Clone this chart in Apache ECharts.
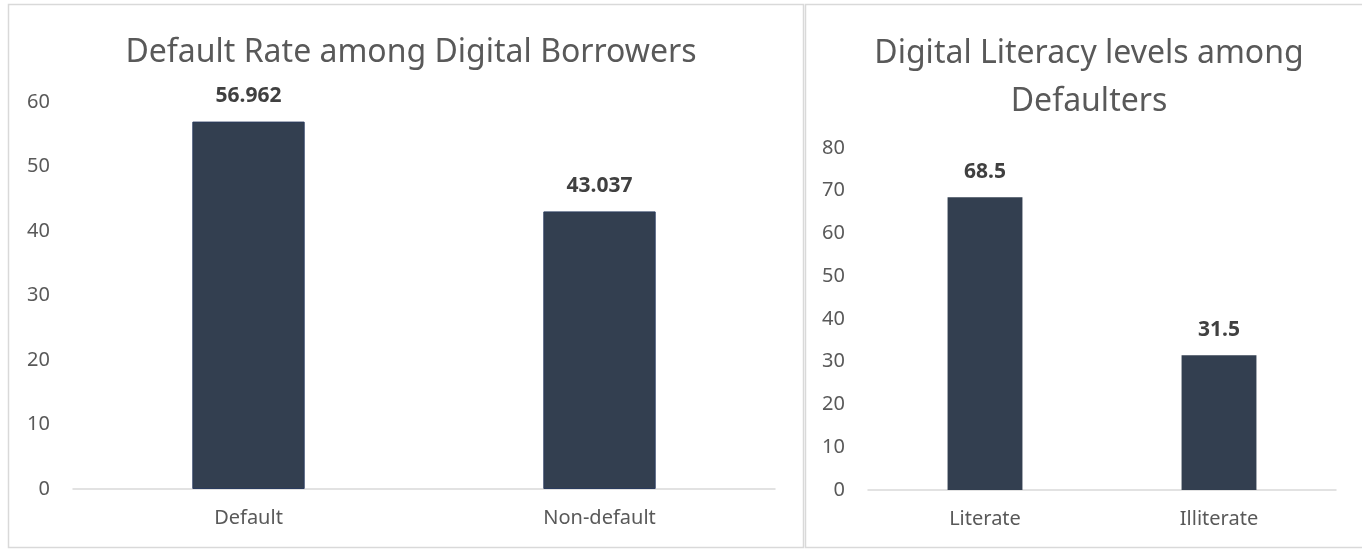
<!DOCTYPE html>
<html>
<head>
<meta charset="utf-8">
<script src="https://cdn.jsdelivr.net/npm/echarts@6/dist/echarts.min.js"></script>
<style>
html,body{margin:0;padding:0;background:#fff;}
#c{width:1362px;height:551px;}
</style>
</head>
<body>
<div id="c"></div>
<script>
const leftTitle = 'Default Rate among Digital Borrowers';
const leftCategories = ['Default', 'Non-default'];
const leftValues = [56.962, 43.037];
const leftLabels = ['56.962', '43.037'];

const rightTitle = 'Digital Literacy levels among\nDefaulters';
const rightCategories = ['Literate', 'Illiterate'];
const rightValues = [68.5, 31.5];
const rightLabels = ['68.5', '31.5'];

const FONT = 'Noto Sans';
const chart = echarts.init(document.getElementById('c'), null, {renderer: 'canvas'});

function xAxis(gridIndex, cats) {
  return {
    type: 'category', gridIndex, data: cats,
    axisLine: {show: true, lineStyle: {color: '#D9D9D9', width: 1.5}},
    axisTick: {show: false},
    axisLabel: {color: '#595959', fontSize: 20, fontFamily: FONT, margin: 19},
    splitLine: {show: false}
  };
}
function yAxis(gridIndex, max) {
  return {
    type: 'value', gridIndex, min: 0, max, interval: 10,
    axisLine: {show: false}, axisTick: {show: false},
    axisLabel: {color: '#595959', fontSize: 20, fontFamily: FONT, margin: 23},
    splitLine: {show: false}
  };
}
function barSeries(idx, values, labels, border) {
  return {
    type: 'bar', xAxisIndex: idx, yAxisIndex: idx,
    data: values, barWidth: '32%',
    itemStyle: {color: '#333F50', borderColor: border ? '#2A3B5E' : '#333F50', borderWidth: border ? 1 : 0},
    label: {
      show: true, position: 'top', distance: 15,
      formatter: p => labels[p.dataIndex],
      color: '#404040', fontSize: 21, fontWeight: 'bold', fontFamily: FONT
    },
    emphasis: {disabled: true}
  };
}

chart.setOption({
  animation: false,
  graphic: [
    {type: 'rect', shape: {x: 8.5, y: 4.5, width: 795, height: 543}, style: {fill: 'none', stroke: '#D9D9D9', lineWidth: 1.5}, silent: true},
    {type: 'rect', shape: {x: 805.5, y: 4.5, width: 570, height: 543}, style: {fill: 'none', stroke: '#D9D9D9', lineWidth: 1.5}, silent: true}
  ],
  title: [
    {text: leftTitle, left: 406, top: 24, textAlign: 'center',
     textStyle: {color: '#595959', fontSize: 32, fontWeight: 'normal', fontFamily: FONT, lineHeight: 48}},
    {text: rightTitle, left: 1084, top: 25, textAlign: 'center',
     textStyle: {color: '#595959', fontSize: 32, fontWeight: 'normal', fontFamily: FONT, lineHeight: 48}}
  ],
  grid: [
    {left: 73, top: 102, width: 702, height: 387},
    {left: 868, top: 148, width: 468, height: 342}
  ],
  xAxis: [xAxis(0, leftCategories), xAxis(1, rightCategories)],
  yAxis: [yAxis(0, 60), yAxis(1, 80)],
  series: [barSeries(0, leftValues, leftLabels, true), barSeries(1, rightValues, rightLabels, false)]
});
</script>
</body>
</html>
